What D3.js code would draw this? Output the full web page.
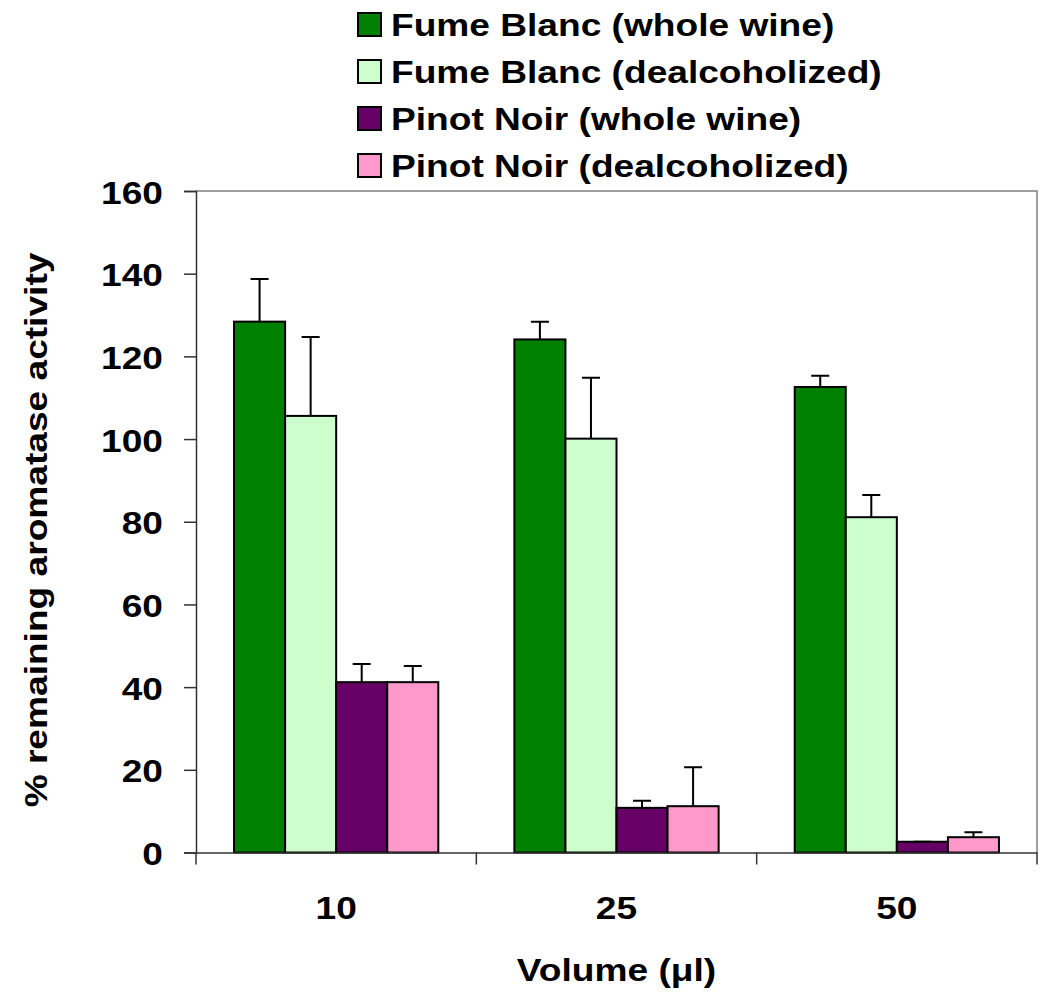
<!DOCTYPE html>
<html>
<head>
<meta charset="utf-8">
<script src="https://cdn.jsdelivr.net/npm/d3@7"></script>
<style>
  html, body { margin: 0; padding: 0; background: #fff; }
  svg { display: block; font-family: "Liberation Sans", Arial, Helvetica, sans-serif; font-weight: bold; }
</style>
</head>
<body>
<svg id="chart" width="1040" height="995"></svg>
<script>
// Volumes tested (µl)
const volumes = ["10", "25", "50"];

// Series names, in drawing order
const seriesNames = [
  "Fume Blanc (whole wine)",
  "Fume Blanc (dealcoholized)",
  "Pinot Noir (whole wine)",
  "Pinot Noir (dealcoholized)"
];

// Mean % remaining aromatase activity per volume, one array per series
const fumeBlancWhole = [128.4, 124.1, 112.6];
const fumeBlancDealc = [105.6, 100.1, 81.1];
const pinotNoirWhole = [41.2, 10.8, 2.6];
const pinotNoirDealc = [41.2, 11.2, 3.7];

// Standard deviations (upper error bars)
const fumeBlancWholeSD = [10.3, 4.3, 2.7];
const fumeBlancDealcSD = [19.1, 14.7, 5.4];
const pinotNoirWholeSD = [4.4, 1.7, 0];
const pinotNoirDealcSD = [3.9, 9.4, 1.2];

// Y axis tick values
const yTicks = [0, 20, 40, 60, 80, 100, 120, 140, 160];

const seriesColors = ["#008000", "#CCFFCC", "#660066", "#FF99CC"];

const means = [fumeBlancWhole, fumeBlancDealc, pinotNoirWhole, pinotNoirDealc];
const sds = [fumeBlancWholeSD, fumeBlancDealcSD, pinotNoirWholeSD, pinotNoirDealcSD];

const rows = [];
seriesNames.forEach((name, si) => {
  volumes.forEach((v, vi) => {
    rows.push({ series: name, si, volume: v, value: means[si][vi], sd: sds[si][vi] });
  });
});

const FONT = 32;      // text size
const WIDEN = 1.16;   // horizontal stretch of all labels

// Moves a text's x/y into a transform and stretches it horizontally
function stretch(sel) {
  sel.each(function () {
    const t = d3.select(this);
    const tx = +t.attr("x") || 0, ty = +t.attr("y") || 0;
    t.attr("x", 0).attr("y", 0)
      .attr("transform", `translate(${tx},${ty}) scale(${WIDEN},1)`);
  });
}

const svg = d3.select("#chart");
const plot = { left: 196, right: 1037, top: 191, bottom: 852.5 };

const x = d3.scaleBand().domain(volumes).range([plot.left, plot.right]).padding(0);
const xInner = d3.scaleBand().domain(seriesNames).range([0, x.bandwidth()])
  .paddingInner(0).paddingOuter(0.745);
const y = d3.scaleLinear().domain([0, 160]).range([plot.bottom, plot.top]);

// Plot frame (top and right edges)
svg.append("path")
  .attr("d", `M${plot.left},${plot.top}H${plot.right}V${plot.bottom}`)
  .attr("fill", "none").attr("stroke", "#808080").attr("stroke-width", 1.5);

// Bars
svg.append("g").selectAll("rect").data(rows).join("rect")
  .attr("x", d => x(d.volume) + xInner(d.series))
  .attr("y", d => y(d.value))
  .attr("width", xInner.bandwidth())
  .attr("height", d => y(0) - y(d.value))
  .attr("fill", d => seriesColors[d.si])
  .attr("stroke", "#000").attr("stroke-width", 2);

// Upper error bars
const capHalf = 9;
const eb = svg.append("g").attr("stroke", "#000").attr("stroke-width", 2).attr("fill", "none");
eb.selectAll("path").data(rows).join("path")
  .attr("d", d => {
    const cx = x(d.volume) + xInner(d.series) + xInner.bandwidth() / 2;
    const yt = y(d.value + d.sd), yb = y(d.value);
    return `M${cx},${yb}V${yt}M${cx - capHalf},${yt}H${cx + capHalf}`;
  });

// Y axis
const yAxis = svg.append("g")
  .attr("transform", `translate(${plot.left},0)`)
  .call(d3.axisLeft(y).tickValues(yTicks).tickSize(12).tickPadding(21).tickFormat(d3.format("d")));
yAxis.select(".domain").attr("stroke", "#333").attr("stroke-width", 1.5);
yAxis.selectAll(".tick line").attr("stroke", "#333").attr("stroke-width", 1.5);
yAxis.selectAll(".tick text")
  .attr("font-size", FONT).attr("font-family", "Liberation Sans, Arial, sans-serif")
  .attr("font-weight", "bold").attr("fill", "#000").attr("dy", "0.38em")
  .call(stretch);

// X axis: line with ticks at category boundaries
const xAxis = svg.append("g")
  .attr("transform", `translate(0,${plot.bottom})`)
  .call(d3.axisBottom(x).tickSize(0).tickPadding(44));
xAxis.select(".domain").attr("stroke", "#333").attr("stroke-width", 1.5);
xAxis.selectAll(".tick text")
  .attr("font-size", FONT).attr("font-family", "Liberation Sans, Arial, sans-serif")
  .attr("font-weight", "bold").attr("fill", "#000")
  .call(stretch);
const bounds = volumes.map(v => x(v)).concat([x(volumes[volumes.length - 1]) + x.bandwidth()]);
xAxis.selectAll("line.bound").data(bounds).join("line")
  .attr("class", "bound")
  .attr("x1", d => d).attr("x2", d => d)
  .attr("y1", 0).attr("y2", 12)
  .attr("stroke", "#333").attr("stroke-width", 1.5);

// Axis titles
svg.append("text")
  .attr("transform", `translate(${(plot.left + plot.right) / 2},981) scale(${WIDEN},1)`)
  .attr("text-anchor", "middle").attr("font-size", FONT)
  .text("Volume (μl)");

svg.append("text")
  .attr("transform", `translate(47,530) rotate(-90) scale(${WIDEN},1)`)
  .attr("text-anchor", "middle").attr("font-size", FONT)
  .text("% remaining aromatase activity");

// Legend
const legend = svg.append("g").attr("transform", "translate(358,13)");
const li = legend.selectAll("g").data(seriesNames).join("g")
  .attr("transform", (d, i) => `translate(0,${i * 47})`);
li.append("rect")
  .attr("width", 23).attr("height", 23)
  .attr("fill", (d, i) => seriesColors[i])
  .attr("stroke", "#000").attr("stroke-width", 2);
li.append("text")
  .attr("x", 33).attr("y", 23)
  .attr("font-size", FONT)
  .text(d => d)
  .call(stretch);
</script>
</body>
</html>
